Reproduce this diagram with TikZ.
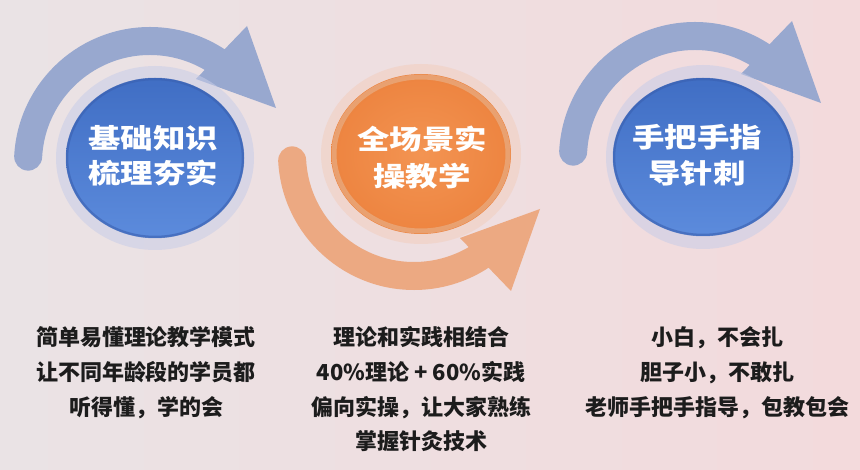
\documentclass[tikz,border=0pt]{standalone}
\usepackage{fontspec}
\usepackage{graphicx}
\newfontfamily\cjk{Noto Sans CJK SC}
\definecolor{bgL}{RGB}{234,227,229}
\definecolor{bgR}{RGB}{243,218,220}
\definecolor{arrowB}{RGB}{152,168,207}
\definecolor{arrowO}{RGB}{236,169,130}
\definecolor{haloB}{RGB}{200,205,232}
\definecolor{haloO}{RGB}{242,206,190}
\definecolor{blueTop}{RGB}{64,110,196}
\definecolor{blueBot}{RGB}{92,139,220}
\definecolor{blueRim}{RGB}{58,96,176}
\definecolor{orangeIn}{RGB}{243,148,82}
\definecolor{orangeOut}{RGB}{237,132,64}
\definecolor{orangeRim}{RGB}{233,168,124}
\definecolor{txt}{RGB}{28,28,28}
\tikzset{
  pics/turnarrow/.style={code={
    \draw[line width=28pt,line cap=round,draw=#1] (183:122) arc[start angle=183,end angle=304,radius=122];
    \fill[#1] (46,-84) -- (97,-137) -- (126,-55) -- cycle;}},
  circtext/.style={text=white,font=\cjk\bfseries\fontsize{27}{30}\selectfont,inner sep=0pt,anchor=base},
  desc/.style={text=txt,font=\cjk\bfseries\fontsize{22}{26}\selectfont,inner sep=0pt,anchor=base}
}
\begin{document}
\begin{tikzpicture}[x=1pt,y=-1pt]
\useasboundingbox (0,0) rectangle (860,470);
\shade[left color=bgL,right color=bgR] (0,0) rectangle (860,470);

% arrows
\pic at (150,163) {turnarrow=arrowB};
\pic[yscale=-1] at (414,154) {turnarrow=arrowO};
\pic at (695,158) {turnarrow=arrowB};

% left circle
\fill[haloB,opacity=0.55] (155,158) ellipse [x radius=99,y radius=92];
\shade[top color=blueTop,bottom color=blueBot] (155,158) ellipse [x radius=89,y radius=80];
\draw[blueRim,line width=2.5pt,opacity=0.6] (155,158) ellipse [x radius=88,y radius=79];

% middle circle
\fill[haloO,opacity=0.55] (421,154) ellipse [x radius=100,y radius=90];
\shade[inner color=orangeIn,outer color=orangeOut] (421,154) ellipse [x radius=90,y radius=80];
\draw[orangeRim,line width=5pt,opacity=0.8] (421,154) ellipse [x radius=87,y radius=77];

% right circle
\fill[haloB,opacity=0.55] (703,157) ellipse [x radius=97,y radius=92];
\shade[top color=blueTop,bottom color=blueBot] (703,157) ellipse [x radius=90,y radius=79];
\draw[blueRim,line width=2.5pt,opacity=0.6] (703,157) ellipse [x radius=89,y radius=78];

% circle texts
\node[circtext] (c1a) at (153,149) {\scalebox{1.2}[1]{基础知识}};
\node[circtext] (c1b) at (153,184) {\scalebox{1.2}[1]{梳理夯实}};
\node[circtext] (c2a) at (422,150) {\scalebox{1.2}[1]{全场景实}};
\node[circtext] (c2b) at (422,187) {\scalebox{1.2}[1]{操教学}};
\node[circtext] (c3a) at (697,148) {\scalebox{1.2}[1]{手把手指}};
\node[circtext] (c3b) at (697,184) {\scalebox{1.2}[1]{导针刺}};

% descriptions
\node[desc] (d1a) at (146,346) {简单易懂理论教学模式};
\node[desc] (d1b) at (146,380.5) {让不同年龄段的学员都};
\node[desc] (d1c) at (146,415) {听得懂，学的会};

\node[desc] (d2a) at (421,346) {理论和实践相结合};
\node[desc] (d2b) at (421,380.5) {40\%理论 + 60\%实践};
\node[desc] (d2c) at (421,415) {偏向实操，让大家熟练};
\node[desc] (d2d) at (421,449.5) {掌握针灸技术};

\node[desc] (d3a) at (717,346) {小白，不会扎};
\node[desc] (d3b) at (717,380.5) {胆子小，不敢扎};
\node[desc] (d3c) at (717,415) {老师手把手指导，包教包会};
\end{tikzpicture}
\end{document}
